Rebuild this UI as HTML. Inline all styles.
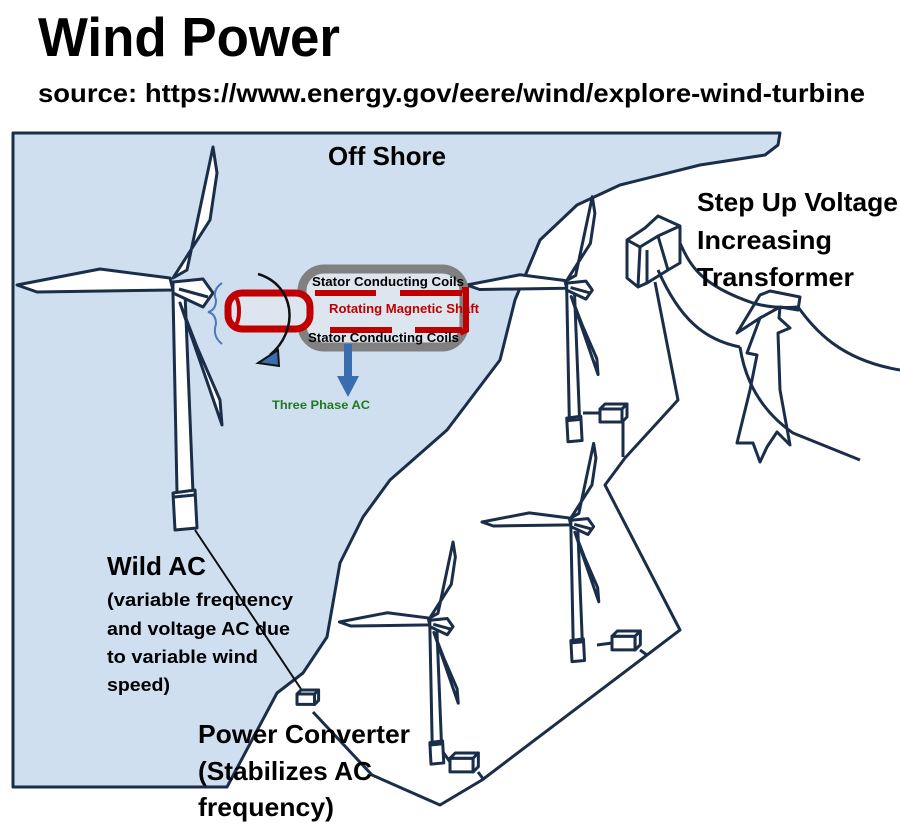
<!DOCTYPE html>
<html><head><meta charset="utf-8"><style>
html,body{margin:0;padding:0;background:#fff;width:900px;height:829px;overflow:hidden}
svg{display:block}
text{font-family:"Liberation Sans",sans-serif;font-weight:bold}
#tb *, #bx *{vector-effect:non-scaling-stroke}
</style></head><body>
<svg width="900" height="829" viewBox="0 0 900 829" xmlns="http://www.w3.org/2000/svg">
<defs>
<g id="tb" stroke="#1a2e4a" stroke-width="3" stroke-linejoin="round" fill="#fff">
  <polygon points="-2,8 2,208 18,208 10,8"/>
  <polygon points="-2,208 20,205 22,243 0,245"/>
  <line x1="-1" y1="212" x2="20" y2="210"/>
  <polygon points="5,18 47,140 45,115 22,62"/>
  <polygon points="-158,0 -75,-16 -5,-7 -2,5 -138,7"/>
  <polygon points="38,-138 42,-112 35,-65 -2,-7 12,-15"/>
  <polygon points="-2,-3 28,-6 38,8 28,22 -2,8"/>
  <line x1="4" y1="4" x2="33" y2="12"/>
</g>
<g id="bx" stroke="#1a2e4a" stroke-width="3" fill="#fff" stroke-linejoin="round">
  <rect x="0" y="5" width="22" height="13"/>
  <polygon points="0,5 5,0 27,0 22,5"/>
  <polygon points="22,5 27,0 27,13 22,18"/>
</g>
</defs>

<text x="38" y="56" font-size="55" textLength="302" lengthAdjust="spacingAndGlyphs">Wind Power</text>
<text x="38" y="102" font-size="26" textLength="827" lengthAdjust="spacingAndGlyphs">source: https://www.energy.gov/eere/wind/explore-wind-turbine</text>

<polygon points="13,133 780,133 778,145 765,155 700,165 620,185 577,205 540,240 515,300 500,360 447,430 390,480 363,517 340,563 327,637 303,673 277,693 227,787 13,787" fill="#d0dff0" stroke="#1a2e4a" stroke-width="3" stroke-linejoin="round"/>

<g fill="none" stroke="#1a2e4a" stroke-width="3" stroke-linejoin="round">
  <polyline points="313,712 372,775 440,805 482,780 680,630 605,485 625,458 678,400 655,282"/>
  <polyline points="612,418 623,422 623,457"/>
  <line x1="640" y1="650" x2="647" y2="655"/>
  <line x1="478" y1="772" x2="484" y2="780"/>
  <path d="M680,243 C690,265 700,285 753,303 C770,308 785,308 798,307 C815,330 840,360 900,370"/>
  <path d="M658,270 C680,320 705,340 740,347"/>
  <path d="M740,347 C745,380 760,410 793,433 L860,460"/>
  <polygon points="760,295 770,291 800,297 798,310 780,307 779,318 790,328 778,333 780,390 790,445 777,432 767,447 760,462 753,443 737,443 750,390 757,355 747,353 760,318 737,333"/>
  <line x1="780" y1="307" x2="760" y2="318"/>
  <polygon points="627,240 645,228 658,216 680,226 680,263 668,270 647,283 638,287 627,278"/>
  <polyline points="627,240 640,247 658,236 680,226"/>
  <line x1="640" y1="247" x2="638" y2="287"/>
  <line x1="647" y1="250" x2="647" y2="283"/>
  <line x1="658" y1="236" x2="668" y2="270"/>
</g>

<use href="#tb" transform="translate(568,285) scale(0.64)"/>
<use href="#tb" transform="translate(572,522) scale(0.57)"/>
<use href="#tb" transform="translate(431,622) scale(0.58)"/>
<use href="#tb" transform="translate(175,285)"/>

<line x1="195" y1="530" x2="305" y2="695" stroke="#111" stroke-width="2"/>
<use href="#bx" transform="translate(297,690) scale(0.8)"/>
<line x1="583" y1="413" x2="600" y2="413" stroke="#1a2e4a" stroke-width="3"/>
<use href="#bx" transform="translate(600,404)"/>
<line x1="597" y1="645" x2="612" y2="643" stroke="#1a2e4a" stroke-width="3"/>
<use href="#bx" transform="translate(612,631) scale(1.05)"/>
<line x1="443" y1="752" x2="450" y2="762" stroke="#1a2e4a" stroke-width="3"/>
<use href="#bx" transform="translate(450,753) scale(1.05)"/>

<!-- generator -->
<rect x="302" y="269" width="162" height="78" rx="22" fill="#dde5ef" stroke="#808080" stroke-width="9"/>
<path d="M222,283 Q212,290 216,300 Q216,310 208,312 Q216,314 216,324 Q212,336 222,344" fill="none" stroke="#4a78b8" stroke-width="2"/>
<rect x="228" y="293" width="82" height="36" rx="14" fill="#dde5ef" stroke="#c00000" stroke-width="7"/>
<ellipse cx="234" cy="311" rx="5" ry="15" fill="none" stroke="#c00000" stroke-width="4"/>
<g stroke="#c00000" stroke-width="6">
  <line x1="315" y1="293" x2="376" y2="293"/>
  <line x1="400" y1="293" x2="462" y2="293"/>
  <line x1="330" y1="330" x2="392" y2="330"/>
  <line x1="415" y1="330" x2="462" y2="330"/>
  <path d="M462,290 L466,290 L466,330 L460,333" fill="none"/>
</g>
<path d="M258,274 C295,285 300,330 270,355" fill="none" stroke="#111" stroke-width="2.5"/>
<polygon points="258,363 278,350 279,366" fill="#3a6db0" stroke="#111" stroke-width="2"/>
<text x="312" y="286" font-size="12.5" textLength="152" lengthAdjust="spacingAndGlyphs">Stator Conducting Coils</text>
<text x="329" y="313" font-size="12.5" fill="#c00000" textLength="150" lengthAdjust="spacingAndGlyphs">Rotating Magnetic Shaft</text>
<text x="308" y="342" font-size="12.5" textLength="151" lengthAdjust="spacingAndGlyphs">Stator Conducting Coils</text>
<rect x="344" y="344" width="8" height="34" fill="#3a6db0"/>
<polygon points="337,376 359,376 348,397" fill="#3a6db0"/>
<text x="272" y="409" font-size="12" fill="#1e7a1e" textLength="98" lengthAdjust="spacingAndGlyphs">Three Phase AC</text>

<text x="328" y="165" font-size="26" textLength="118" lengthAdjust="spacingAndGlyphs">Off Shore</text>
<text x="697" y="211" font-size="26" textLength="201" lengthAdjust="spacingAndGlyphs">Step Up Voltage</text>
<text x="697" y="249" font-size="26" textLength="135" lengthAdjust="spacingAndGlyphs">Increasing</text>
<text x="697" y="286" font-size="26" textLength="157" lengthAdjust="spacingAndGlyphs">Transformer</text>
<text x="107" y="575" font-size="26" textLength="99" lengthAdjust="spacingAndGlyphs">Wild AC</text>
<text x="107" y="606" font-size="18.5" textLength="186" lengthAdjust="spacingAndGlyphs">(variable frequency</text>
<text x="107" y="635" font-size="18.5" textLength="183" lengthAdjust="spacingAndGlyphs">and voltage AC due</text>
<text x="107" y="663" font-size="18.5" textLength="151" lengthAdjust="spacingAndGlyphs">to variable wind</text>
<text x="107" y="691" font-size="18.5" textLength="63" lengthAdjust="spacingAndGlyphs">speed)</text>
<text x="198" y="743" font-size="26" textLength="212" lengthAdjust="spacingAndGlyphs">Power Converter</text>
<text x="198" y="780" font-size="26" textLength="174" lengthAdjust="spacingAndGlyphs">(Stabilizes AC</text>
<text x="198" y="816" font-size="26" textLength="136" lengthAdjust="spacingAndGlyphs">frequency)</text>
</svg>
</body></html>
